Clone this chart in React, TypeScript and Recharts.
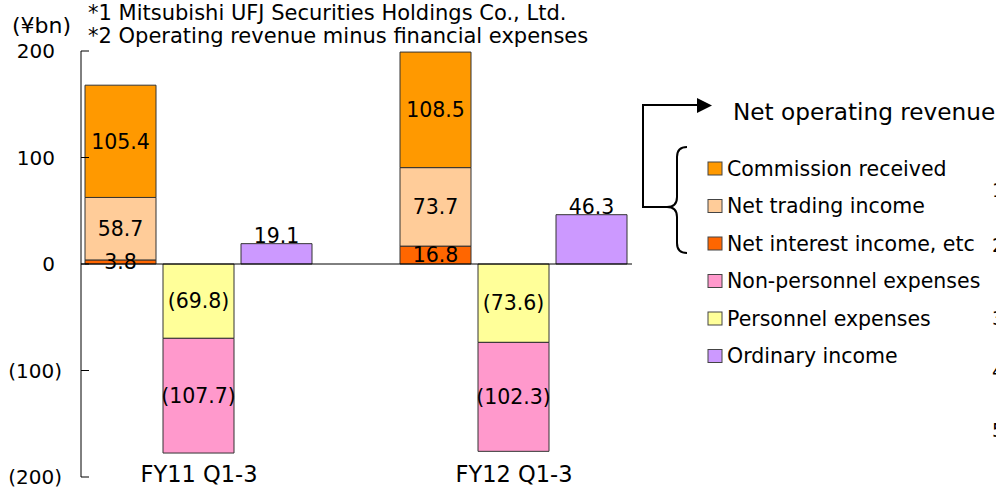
import { Bar, BarChart, LabelList, Legend, ReferenceLine, XAxis, YAxis } from "recharts";

const categories = ["FY11 Q1-3", "FY12 Q1-3"];
const netInterestIncome = [3.8, 16.8];
const netTradingIncome = [58.7, 73.7];
const commissionReceived = [105.4, 108.5];
const personnelExpenses = [-69.8, -73.6];
const nonPersonnelExpenses = [-107.7, -102.3];
const ordinaryIncome = [19.1, 46.3];
const yTicks = [-200, -100, 0, 100, 200];
const notes = [
  "*1 Mitsubishi UFJ Securities Holdings Co., Ltd.",
  "*2 Operating revenue minus financial expenses",
];
const edgeDigits = ["1", "2", "3", "4", "5"];

const data = categories.map((name, i) => ({
  name,
  interest: netInterestIncome[i],
  trading: netTradingIncome[i],
  commission: commissionReceived[i],
  personnel: personnelExpenses[i],
  nonPersonnel: nonPersonnelExpenses[i],
  ordinary: ordinaryIncome[i],
}));

const series = [
  { key: "interest", name: "Net interest income, etc", color: "#FF6600", stack: "rev" },
  { key: "trading", name: "Net trading income", color: "#FFCC99", stack: "rev" },
  { key: "commission", name: "Commission received", color: "#FF9900", stack: "rev" },
  { key: "personnel", name: "Personnel expenses", color: "#FFFF99", stack: "exp" },
  { key: "nonPersonnel", name: "Non-personnel expenses", color: "#FF99CC", stack: "exp" },
  { key: "ordinary", name: "Ordinary income", color: "#CC99FF", stack: undefined },
];
const legendOrder = ["commission", "trading", "interest", "nonPersonnel", "personnel", "ordinary"];

const FONT = "'DejaVu Sans', Verdana, sans-serif";
const AXIS_X = 81;
const edgeY = [190, 245, 318, 371, 430];

const fmt = (v: number) => (v < 0 ? `(${Math.abs(v).toFixed(1)})` : v.toFixed(1));

const YTick = ({ y, payload }: any) => {
  const v = payload.value;
  return (
    <g>
      <line x1={AXIS_X} x2={AXIS_X + 8} y1={y} y2={y} stroke="#000" />
      <text x={v < 0 ? 62 : 55} y={y} textAnchor="end" dominantBaseline="central"
        fontSize={20} fontFamily={FONT} fill="#000">
        {v < 0 ? `(${Math.abs(v)})` : v}
      </text>
    </g>
  );
};

const XTick = ({ x, y, payload }: any) => (
  <text x={x} y={y} dy={5} textAnchor="middle" fontSize={22.5} fontFamily={FONT} fill="#000">
    {payload.value}
  </text>
);

const LegendBox = () => (
  <svg width={366} height={300} style={{ display: "block", overflow: "visible" }}>
    <path d="M 37 117 H 13 V 15 H 70" fill="none" stroke="#000" strokeWidth={2} />
    <polygon points="67,8 82,15.5 67,23" fill="#000" />
    <path d="M 57 57 Q 47 57 47 67 V 107 Q 47 117 37 117 Q 47 117 47 127 V 153 Q 47 163 57 163"
      fill="none" stroke="#000" strokeWidth={2} />
    <text x={103} y={21.5} dominantBaseline="central" fontSize={23.2} fontFamily={FONT} fill="#000">
      Net operating revenue
    </text>
    {legendOrder.map((k, i) => {
      const s = series.find((d) => d.key === k)!;
      const cy = 78.5 + i * 37.5;
      return (
        <g key={k}>
          <rect x={78} y={cy - 6.5} width={14} height={13} fill={s.color} stroke="#444" />
          <text x={97} y={cy} dominantBaseline="central" fontSize={20.5} fontFamily={FONT} fill="#000">
            {s.name}
          </text>
        </g>
      );
    })}
  </svg>
);

export default function App() {
  return (
    <div style={{ position: "absolute", left: 0, top: 0, width: 996, height: 487, overflow: "hidden", background: "#fff", fontFamily: FONT }}>
      <BarChart
        width={996}
        height={487}
        data={data}
        margin={{ top: 51, right: 364, bottom: 0, left: 0 }}
        barCategoryGap={43.5}
        barGap={7}
      >
        <XAxis
          dataKey="name"
          height={10}
          padding={{ left: -39.5, right: -39.5 }}
          axisLine={false}
          tickLine={false}
          tickSize={0}
          tickMargin={0}
          tick={<XTick />}
          interval={0}
        />
        <YAxis
          width={AXIS_X}
          domain={[-200, 200]}
          ticks={yTicks}
          allowDataOverflow
          axisLine={{ stroke: "#000" }}
          tickLine={false}
          tick={<YTick />}
        />
        <Legend
          layout="vertical"
          align="center"
          verticalAlign="middle"
          content={() => <LegendBox />}
          wrapperStyle={{ left: 630, top: 90, width: 366, height: 300 }}
        />
        {series.map((s) => (
          <Bar
            key={s.key}
            dataKey={s.key}
            name={s.name}
            stackId={s.stack}
            fill={s.color}
            stroke="#333"
            strokeWidth={1}
            isAnimationActive={false}
          >
            <LabelList
              dataKey={s.key}
              position={s.key === "ordinary" ? "top" : "center"}
              offset={1}
              formatter={(v: any) => fmt(Number(v))}
              style={{ fontSize: 20.5, fontFamily: FONT, fill: "#000" }}
            />
          </Bar>
        ))}
        <ReferenceLine y={0} stroke="#000" strokeWidth={1} />
      </BarChart>
      <svg width={996} height={487} style={{ position: "absolute", left: 0, top: 0, pointerEvents: "none" }}>
        <text x={12} y={33} fontSize={22} fontFamily={FONT} fill="#000">(¥bn)</text>
        {notes.map((n, i) => (
          <text key={i} x={88} y={20 + i * 23} fontSize={21} fontFamily={FONT} fill="#000">{n}</text>
        ))}
        {edgeDigits.map((d, i) => (
          <text key={d} x={992} y={edgeY[i]} dominantBaseline="central" fontSize={19} fontFamily={FONT} fill="#000">{d}</text>
        ))}
      </svg>
    </div>
  );
}
